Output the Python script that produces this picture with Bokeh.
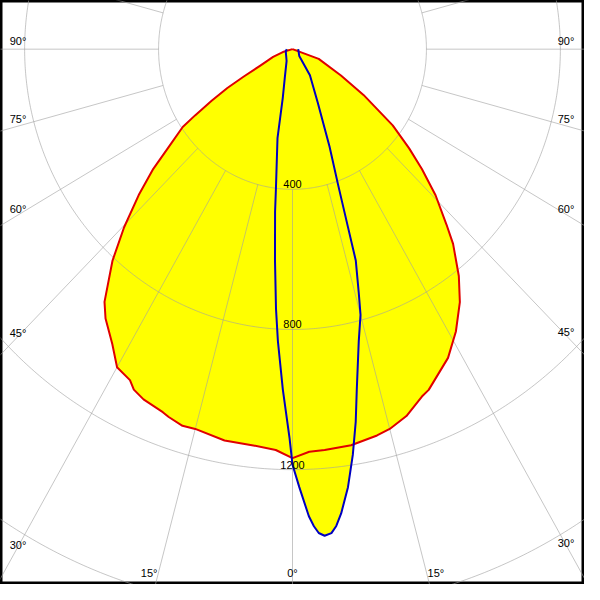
import numpy as np
from bokeh.plotting import figure
from bokeh.models import ColumnDataSource, Range1d
from bokeh.embed import file_html
from bokeh.resources import INLINE
from bokeh.core.properties import value

# ---- data: luminous intensity (cd) vs gamma angle (deg, 0 = straight down) ----
# C0-C180 plane (red curve): left half and right half
red_left_angles = [0, 2.5, 5.9, 10.3, 15, 17, 19.4, 20.5, 24, 26, 27.2, 30, 32.6, 36, 37.9,
                   41.7, 44.7, 47.8, 50.6, 53, 55.9, 57, 58.6, 60.3, 61.8, 63.9, 69.1, 74, 90]
red_left_values = [1167, 1145, 1137, 1135, 1122, 1124, 1113, 1106, 1094, 1081, 1062, 1048,
                   999, 950, 914, 808, 715, 620, 538, 462, 396, 347, 283, 224, 165, 107, 62,
                   30, 0]
red_right_angles = [0, 2.5, 4.8, 8.8, 12.9, 15, 18, 21.3, 22.7, 27.8, 31.2, 34.7, 37.5,
                    40.8, 42.6, 45.7, 48.5, 50.9, 54, 58.4, 62.6, 70.5, 90]
red_right_values = [1167, 1150, 1148, 1144, 1131, 1122, 1101, 1064, 1054, 996, 942, 878,
                    816, 734, 679, 597, 516, 449, 370, 249, 163, 83, 0]

# C90-C270 plane (blue curve)
blue_left_angles = [0, 0.45, 1.7, 3.0, 3.8, 4.96, 6.4, 7.1, 10, 11.8, 15.6, 27.6, 74, 90]
blue_left_values = [1186, 1111, 972, 834, 743, 605, 467, 400, 258, 142, 86, 38, 21, 17]
blue_right_angles = [0, 0.93, 2.1, 2.69, 3.25, 3.95, 4.81, 5.49, 6.26, 7.55, 8.84, 10.07,
                     11.17, 13.35, 15.0, 15.9, 17.4, 18.06, 19.36, 21.7, 26.3, 34.9, 46.2, 90]
blue_right_values = [1186, 1250, 1334, 1363, 1383, 1392, 1386, 1367, 1333, 1261, 1172, 1080,
                     991, 857, 785, 722, 632, 535, 412, 299, 170, 91, 28, 17]

# grid
ring_values = [400, 800, 1200, 1600, 2000]
ring_labels = ["400", "800", "1200"]
spoke_step = 15
angle_label_angles = [-90, -75, -60, -45, -30, -15, 0, 15, 30, 45, 60, 75, 90]
angle_label_texts = ["90°", "75°", "60°", "45°", "30°", "15°", "0°",
                     "15°", "30°", "45°", "60°", "75°", "90°"]

# ---- layout (reference scale: px per cd, centre at (300, 50) of a 600 px frame) ----
SIZE = 584
PX, PY = 0.344, 0.36
CX, CY = 300.0, 50.0
K = SIZE / 600.0
x0, x1 = -CX / PX, (600 - CX) / PX
y0, y1 = -(600 - CY) / PY, CY / PY


def polar(angles, vals, side):
    a = np.radians(np.asarray(angles, float))
    v = np.asarray(vals, float)
    return side * v * np.sin(a), -v * np.cos(a)


def outline(la, lv, ra, rv):
    lx, ly = polar(la, lv, -1)
    rx, ry = polar(ra, rv, 1)
    return np.concatenate([lx[::-1], rx]), np.concatenate([ly[::-1], ry])


rxs, rys = outline(red_left_angles, red_left_values, red_right_angles, red_right_values)
bxs, bys = outline(blue_left_angles, blue_left_values, blue_right_angles, blue_right_values)

p = figure(width=SIZE, height=SIZE, output_backend="svg", toolbar_location=None,
           x_range=Range1d(x0, x1), y_range=Range1d(y0, y1),
           x_axis_type=None, y_axis_type=None, min_border=0,
           background_fill_color="white", border_fill_color="white")
p.grid.visible = False
p.outline_line_color = "black"
p.outline_line_width = 4

# fills
p.patch(rxs, rys, fill_color="#ffff00", line_color=None)
p.patch(bxs, bys, fill_color="#ffff00", line_color=None)

# grid rings and spokes
th = np.linspace(0, 2 * np.pi, 721)
ring_x = [list(r * np.sin(th)) for r in ring_values]
ring_y = [list(-r * np.cos(th)) for r in ring_values]
p.multi_line(ring_x, ring_y, line_color="#a0a0a0", line_alpha=0.6, line_width=1)
sp_x, sp_y = [], []
for ang in range(0, 360, spoke_step):
    a = np.radians(ang)
    sp_x.append([ring_values[0] * np.sin(a), 3000 * np.sin(a)])
    sp_y.append([-ring_values[0] * np.cos(a), -3000 * np.cos(a)])
p.multi_line(sp_x, sp_y, line_color="#a0a0a0", line_alpha=0.6, line_width=1)

# curves
p.line(list(rxs), list(rys), line_color="#e00000", line_width=2, line_join="round")
p.line(list(bxs), list(bys), line_color="#0000c0", line_width=2, line_join="round")

# ring labels
p.text(x=[0] * len(ring_labels), y=[-r for r in ring_values[:len(ring_labels)]],
       text=ring_labels, text_align="center", text_baseline="bottom",
       text_font=value("Liberation Sans"), text_font_size="11px", text_color="black",
       y_offset=-1)

# angle labels: where each spoke leaves an inset box
inL, inR, inB = -(CX - 18) / PX, (600 - 19 - CX) / PX, -(588 - CY) / PY
lx, ly, xo, yo = [], [], [], []
for ang in angle_label_angles:
    a = np.radians(ang)
    dx, dy = np.sin(a), -np.cos(a)
    ts = []
    if dx < -1e-9:
        ts.append(inL / dx)
    if dx > 1e-9:
        ts.append(inR / dx)
    if dy < -1e-9:
        ts.append(inB / dy)
    t = min(ts)
    lx.append(t * dx)
    ly.append(t * dy)
    if dy < -1e-9 and abs(t - inB / dy) < 1e-6 and abs(ang) < 25:
        xo.append(37 * np.sin(a) * K)
        yo.append(0)
    else:
        xo.append(0)
        yo.append(-8 * np.sin(a) ** 2 * K)
src = ColumnDataSource(dict(x=lx, y=ly, t=angle_label_texts, xo=xo, yo=yo))
p.text(x="x", y="y", text="t", x_offset="xo", y_offset="yo", source=src,
       text_align="center", text_baseline="middle",
       text_font=value("Liberation Sans"), text_font_size="11px", text_color="black")

open("out.html", "w").write(file_html(p, INLINE))
